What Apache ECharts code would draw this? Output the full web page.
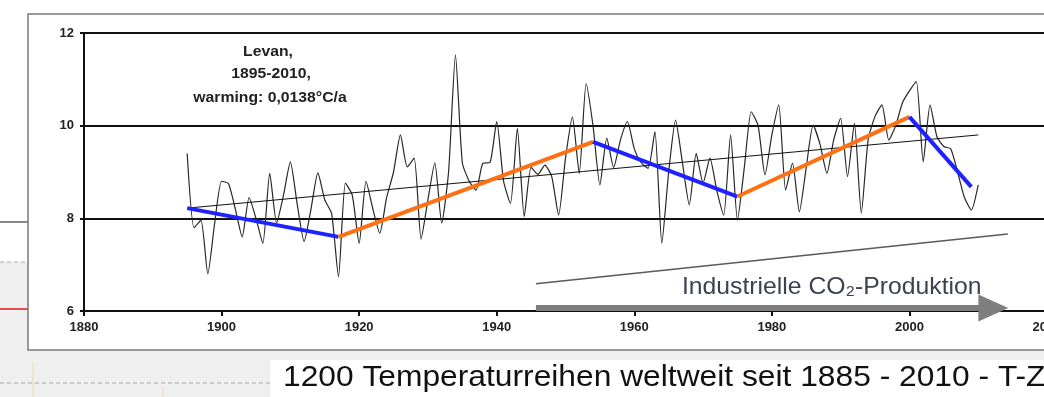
<!DOCTYPE html>
<html><head><meta charset="utf-8">
<script src="https://cdn.jsdelivr.net/npm/echarts@6/dist/echarts.min.js"></script>
<style>html,body{margin:0;padding:0;background:#fff}#c{width:1044px;height:397px}</style>
</head><body><div id="c"></div>
<script>
// ---- data ----
const START_YEAR = 1895;
const temps = [
  9.40, 7.80, 7.96, 6.80, 7.90, 8.80, 8.75, 8.20, 7.60, 8.45, // 1895-1904
  8.00, 7.46, 8.97, 7.90, 8.50, 9.22, 8.30, 7.50, 8.20, 8.98, // 1905-1914
  8.40, 8.10, 6.74, 8.76, 8.50, 7.46, 8.80, 8.20, 7.68, 8.45, // 1915-1924
  9.00, 9.80, 9.11, 9.30, 7.55, 8.40, 9.20, 7.90, 9.00, 11.53, // 1925-1934
  9.20, 8.80, 8.61, 9.19, 9.20, 10.09, 8.80, 8.32, 9.94, 8.04, // 1935-1944
  9.10, 8.95, 9.15, 8.90, 8.07, 9.30, 10.19, 8.97, 10.91, 10.00, // 1945-1954
  8.72, 9.73, 9.10, 9.70, 10.09, 9.50, 9.20, 9.08, 9.87, 7.46, // 1955-1964
  9.00, 10.12, 9.20, 8.29, 9.40, 8.76, 9.30, 8.60, 8.07, 9.80, // 1965-1974
  7.96, 9.10, 10.30, 10.00, 8.94, 9.80, 10.45, 8.61, 9.19, 8.14, // 1975-1984
  9.10, 10.01, 9.60, 8.97, 9.70, 10.16, 8.90, 10.05, 8.11, 9.70, // 1985-1994
  10.20, 10.45, 9.69, 10.00, 10.50, 10.75, 10.95, 9.22, 10.45, 9.76, // 1995-2004
  9.55, 9.50, 9.00, 8.45, 8.18, 8.72 // 2005-2010
];
const years = temps.map((_, i) => START_YEAR + i);

const trendYears = [1895, 2010];
const trendTemps = [8.22, 9.80];

const phaseYears = [1895, 1917, 1954, 1975, 2000, 2009];
const phaseTemps = [8.22, 7.60, 9.65, 8.47, 10.19, 8.68];

const co2Years = [1945.7, 2014.3];
const co2Vals = [6.59, 7.66];

const arrowYears = [1945.7, 2012.2];
const arrowVal = 6.065;

const xTicks = { min: 1880, max: 2020, step: 20 };
const yTicks = { min: 6, max: 12, step: 2 };

const titleLines = ['Levan,', '1895-2010,', 'warming: 0,0138°C/a'];
const co2Label = 'Industrielle CO₂-Produktion';
const caption = '1200 Temperaturreihen weltweit seit 1885 - 2010 - T-Z';

// ---- chart ----
const chart = echarts.init(document.getElementById('c'), null, { renderer: 'canvas' });
const FONT = '"Liberation Sans", Arial, sans-serif';

const pair = (xs, ys) => xs.map((x, i) => [x, ys[i]]);

const phaseSeries = [];
for (let i = 0; i < phaseYears.length - 1; i++) {
  phaseSeries.push({
    type: 'line', name: 'phase' + i, z: 5,
    data: [[phaseYears[i], phaseTemps[i]], [phaseYears[i + 1], phaseTemps[i + 1]]],
    symbol: 'none', silent: true,
    lineStyle: { color: i % 2 === 0 ? '#1e22ff' : '#ff7012', width: 4, cap: 'butt' }
  });
}

const arrowData = arrowYears.map((y, i) => i === arrowYears.length - 1
  ? { value: [y, arrowVal], symbol: 'triangle', symbolSize: [27, 30], symbolRotate: -90, itemStyle: { color: '#7f7f7f' } }
  : { value: [y, arrowVal], symbol: 'none' });

const option = {
  backgroundColor: '#ffffff',
  animation: false,
  grid: { left: 84, top: 33, width: 963, height: 278, containLabel: false, outerBoundsMode: 'none' },
  xAxis: {
    type: 'value', min: xTicks.min, max: xTicks.max, interval: xTicks.step,
    axisLine: { show: true, onZero: false, lineStyle: { color: '#111', width: 2 } },
    axisTick: { show: true, length: 5, lineStyle: { color: '#111', width: 2 } },
    axisLabel: { color: '#222', fontFamily: FONT, fontSize: 13, fontWeight: 'bold', margin: 10,
      showMaxLabel: true, hideOverlap: false, formatter: v => String(v) },
    splitLine: { show: false }
  },
  yAxis: {
    type: 'value', min: yTicks.min, max: yTicks.max, interval: yTicks.step,
    axisLine: { show: true, lineStyle: { color: '#111', width: 2 } },
    axisTick: { show: true, length: 4, lineStyle: { color: '#111', width: 2 } },
    axisLabel: { color: '#222', fontFamily: FONT, fontSize: 13, fontWeight: 'bold', margin: 10 },
    splitLine: { show: true, lineStyle: { color: '#111', width: 2 } }
  },
  series: [
    {
      type: 'line', name: 'Levan', z: 3,
      data: pair(years, temps), symbol: 'none', smooth: 0.2, silent: true,
      lineStyle: { color: '#262626', width: 1.2 }
    },
    {
      type: 'line', name: 'trend', z: 4,
      data: pair(trendYears, trendTemps), symbol: 'none', silent: true,
      lineStyle: { color: '#111', width: 1 }
    },
    ...phaseSeries,
    {
      type: 'line', name: 'co2', z: 4, clip: false,
      data: pair(co2Years, co2Vals), symbol: 'none', silent: true,
      lineStyle: { color: '#5a5a5a', width: 1.5 }
    },
    {
      type: 'line', name: 'arrow', z: 6, clip: false,
      data: arrowData, symbol: 'none', showSymbol: true, silent: true,
      lineStyle: { color: '#7f7f7f', width: 6, cap: 'butt' }
    }
  ],
  graphic: [
    // slide background pieces
    { type: 'rect', z: -20, silent: true, shape: { x: 0, y: 262, width: 28, height: 135 }, style: { fill: '#efefef' } },
    { type: 'rect', z: -20, silent: true, shape: { x: 0, y: 350, width: 1044, height: 47 }, style: { fill: '#efefef' } },
    { type: 'line', z: -19, silent: true, shape: { x1: 0, y1: 262, x2: 28, y2: 262 }, style: { stroke: '#a8a8a8', lineWidth: 1, lineDash: [4, 3] } },
    { type: 'line', z: -19, silent: true, shape: { x1: 0, y1: 383, x2: 270, y2: 383 }, style: { stroke: '#a8a8a8', lineWidth: 1, lineDash: [4, 3] } },
    { type: 'line', z: -19, silent: true, shape: { x1: 0, y1: 222, x2: 28, y2: 222 }, style: { stroke: '#111', lineWidth: 1 } },
    { type: 'line', z: -19, silent: true, shape: { x1: 0, y1: 309, x2: 28, y2: 309 }, style: { stroke: '#e01818', lineWidth: 1.5 } },
    { type: 'line', z: -19, silent: true, shape: { x1: 33, y1: 363, x2: 33, y2: 397 }, style: { stroke: '#f0d79c', lineWidth: 1 } },
    { type: 'line', z: -19, silent: true, shape: { x1: 163, y1: 387, x2: 163, y2: 397 }, style: { stroke: '#f0d79c', lineWidth: 1 } },
    { type: 'rect', z: -18, silent: true, shape: { x: 28, y: 14, width: 1040, height: 336 }, style: { fill: '#ffffff', stroke: '#7a7a7a', lineWidth: 1.5 } },
    { type: 'rect', z: -18, silent: true, shape: { x: 270, y: 360, width: 780, height: 40 }, style: { fill: '#ffffff' } },
    // caption
    { type: 'text', z: 10, silent: true, x: 283, y: 378, scaleX: 1.095,
      style: { text: caption, fontFamily: FONT, fontSize: 29, fill: '#111', verticalAlign: 'middle' } },
    // annotation block
    { type: 'text', z: 10, silent: true, x: 268, y: 52, scaleX: 1.05,
      style: { text: titleLines[0], fontFamily: FONT, fontSize: 15, fontWeight: 'bold', fill: '#222', align: 'center', verticalAlign: 'middle' } },
    { type: 'text', z: 10, silent: true, x: 271, y: 74, scaleX: 1.05,
      style: { text: titleLines[1], fontFamily: FONT, fontSize: 15, fontWeight: 'bold', fill: '#222', align: 'center', verticalAlign: 'middle' } },
    { type: 'text', z: 10, silent: true, x: 270, y: 98, scaleX: 1.05,
      style: { text: titleLines[2], fontFamily: FONT, fontSize: 15, fontWeight: 'bold', fill: '#222', align: 'center', verticalAlign: 'middle' } },
    // CO2 label
    { type: 'text', z: 10, silent: true, x: 682, y: 287, scaleX: 1.03,
      style: { text: co2Label, fontFamily: FONT, fontSize: 24, fill: '#3c4250', verticalAlign: 'middle' } }
  ]
};
chart.setOption(option);
</script>
</body></html>
